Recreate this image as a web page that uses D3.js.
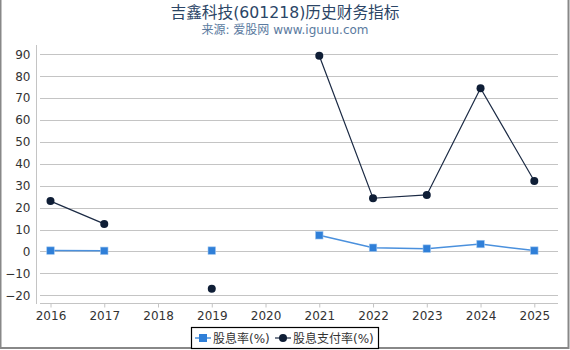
<!DOCTYPE html>
<html>
<head>
<meta charset="utf-8">
<script src="https://cdn.jsdelivr.net/npm/d3@7"></script>
<style>
  body { margin: 0; background: #fff; }
  svg { display: block; font-family: "DejaVu Sans", sans-serif; }
</style>
</head>
<body>
<div id="container"></div>
<script>
/* DATA */
const years = ["2016", "2017", "2018", "2019", "2020", "2021", "2022", "2023", "2024", "2025"];
const dividendYield = [0.4, 0.3, null, 0.4, null, 7.4, 1.7, 1.3, 3.4, 0.4];
const payoutRatio = [23.0, 12.6, null, -17.0, null, 89.3, 24.3, 25.8, 74.5, 32.2];
const yTicks = [-20, -10, 0, 10, 20, 30, 40, 50, 60, 70, 80, 90];

const width = 570, height = 350;
const margin = { top: 45, bottom: 304, left: 36, right: 558 };
const mixFont = "'DejaVu Sans', 'Noto Sans CJK SC', sans-serif";

const svg = d3.select("#container").append("svg")
  .attr("width", width)
  .attr("height", height);

// outer frame
svg.append("rect")
  .attr("x", 0.5).attr("y", -2)
  .attr("width", 568).attr("height", 350)
  .attr("fill", "none")
  .attr("stroke", "#888")
  .attr("stroke-width", 2);

// titles
svg.append("text")
  .attr("x", 285).attr("y", 18)
  .attr("text-anchor", "middle")
  .attr("font-family", mixFont)
  .attr("font-size", 15.7)
  .attr("fill", "#2b4566")
  .text("吉鑫科技(601218)历史财务指标");

svg.append("text")
  .attr("x", 285).attr("y", 33.5)
  .attr("text-anchor", "middle")
  .attr("font-family", mixFont)
  .attr("font-size", 12)
  .attr("fill", "#5a7aa0")
  .text("来源: 爱股网 www.iguuu.com");

/* SCALES */
const xScale = d3.scalePoint()
  .domain(years)
  .range([50.5, 534.3]);

const yScale = d3.scaleLinear()
  .domain([-20, 90])
  .range([295.3, 54.3]);

// gridlines
svg.append("g")
  .selectAll("line")
  .data(yTicks)
  .join("line")
  .attr("x1", 40).attr("x2", margin.right)
  .attr("y1", d => Math.round(yScale(d)) + 0.5)
  .attr("y2", d => Math.round(yScale(d)) + 0.5)
  .attr("stroke", "#c4c4c4");

// y axis
const yAxis = svg.append("g")
  .attr("transform", `translate(${margin.left + 0.5},0)`)
  .call(d3.axisLeft(yScale).tickValues(yTicks).tickSize(0).tickPadding(6));
yAxis.select(".domain").remove();
yAxis.append("line")
  .attr("y1", margin.top).attr("y2", margin.bottom)
  .attr("stroke", "#c4c4c4");
yAxis.selectAll("text")
  .attr("font-size", 12)
  .attr("fill", "#333")
  .attr("font-family", "'DejaVu Sans', sans-serif");

// x axis
const xAxis = svg.append("g")
  .attr("transform", `translate(0,${margin.bottom - 0.5})`)
  .call(d3.axisBottom(xScale).tickSizeOuter(0).tickSize(4).tickPadding(4));
xAxis.select(".domain").remove();
xAxis.append("line")
  .attr("x1", 40).attr("x2", margin.right)
  .attr("stroke", "#c4c4c4");
xAxis.selectAll(".tick line").attr("stroke", "#c4c4c4");
xAxis.selectAll("text")
  .attr("font-size", 12)
  .attr("fill", "#333")
  .attr("font-family", "'DejaVu Sans', sans-serif");

/* LINES */
const line = d3.line()
  .defined(d => d[1] != null)
  .x(d => xScale(d[0]))
  .y(d => yScale(d[1]));

const yieldData = years.map((y, i) => [y, dividendYield[i]]);
const payoutData = years.map((y, i) => [y, payoutRatio[i]]);

svg.append("path")
  .datum(yieldData)
  .attr("fill", "none")
  .attr("stroke", "#4a90dd")
  .attr("stroke-width", 1.5)
  .attr("d", line);

svg.append("g")
  .selectAll("rect")
  .data(yieldData.filter(d => d[1] != null))
  .join("rect")
  .attr("x", d => xScale(d[0]) - 3.75)
  .attr("y", d => yScale(d[1]) - 3.75)
  .attr("width", 7.5).attr("height", 7.5)
  .attr("fill", "#2f7fd8")
  .attr("stroke", "#9cc4ee")
  .attr("stroke-width", 0.6);

svg.append("path")
  .datum(payoutData)
  .attr("fill", "none")
  .attr("stroke", "#1b2a44")
  .attr("stroke-width", 1.2)
  .attr("d", line);

svg.append("g")
  .selectAll("circle")
  .data(payoutData.filter(d => d[1] != null))
  .join("circle")
  .attr("cx", d => xScale(d[0]))
  .attr("cy", d => yScale(d[1]))
  .attr("r", 4)
  .attr("fill", "#0f1e36");

/* LEGEND */
const legend = svg.append("g");
legend.append("rect")
  .attr("x", 191.5).attr("y", 327.5)
  .attr("width", 187).attr("height", 21)
  .attr("fill", "#fff")
  .attr("stroke", "#000")
  .attr("stroke-width", 1.2);

legend.append("line")
  .attr("x1", 195).attr("x2", 211).attr("y1", 338).attr("y2", 338)
  .attr("stroke", "#4a90dd").attr("stroke-width", 1.5);
legend.append("rect")
  .attr("x", 199).attr("y", 334).attr("width", 8).attr("height", 8)
  .attr("fill", "#2f7fd8");
legend.append("text")
  .attr("x", 213).attr("y", 342.5)
  .attr("font-family", mixFont)
  .attr("font-size", 12)
  .attr("fill", "#333")
  .text("股息率(%)");

legend.append("line")
  .attr("x1", 275).attr("x2", 291).attr("y1", 338).attr("y2", 338)
  .attr("stroke", "#1b2a44").attr("stroke-width", 1.2);
legend.append("circle")
  .attr("cx", 283).attr("cy", 338).attr("r", 4)
  .attr("fill", "#0f1e36");
legend.append("text")
  .attr("x", 293).attr("y", 342.5)
  .attr("font-family", mixFont)
  .attr("font-size", 12)
  .attr("fill", "#333")
  .text("股息支付率(%)");
</script>
</body>
</html>
